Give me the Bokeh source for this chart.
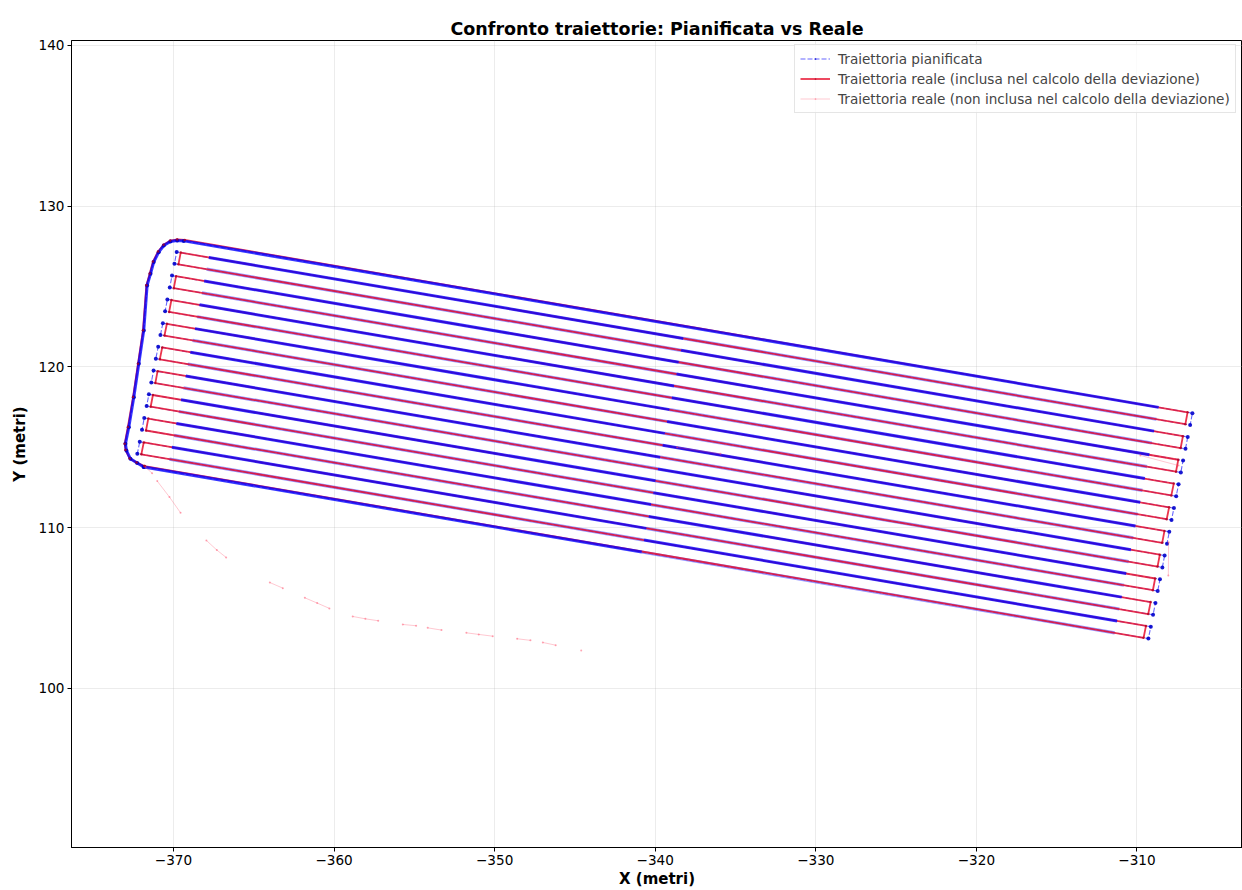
from bokeh.plotting import figure
from bokeh.models import Range1d, Legend, LegendItem, FixedTicker
from bokeh.embed import file_html
from bokeh.resources import INLINE

# ---------------- data (metri) ----------------
x_ticks = [-370, -360, -350, -340, -330, -320, -310]
x_tick_labels = ["\u2212370", "\u2212360", "\u2212350", "\u2212340", "\u2212330", "\u2212320", "\u2212310"]
y_ticks = [100, 110, 120, 130, 140]
y_tick_labels = ["100", "110", "120", "130", "140"]

# planned passes: 20 parallel lines, left and right end points
line_left_x = [-369.36, -369.80, -369.94, -370.09, -370.23, -370.38, -370.52, -370.66, -370.81, -370.95,
               -371.10, -371.24, -371.38, -371.53, -371.67, -371.82, -371.96, -372.10, -372.25, -371.85]
line_left_y = [127.84, 127.15, 126.42, 125.68, 124.94, 124.20, 123.46, 122.72, 121.99, 121.25,
               120.51, 119.77, 119.03, 118.29, 117.56, 116.82, 116.08, 115.34, 114.60, 113.77]
line_right_x = [-306.55, -306.69, -306.84, -306.98, -307.13, -307.27, -307.41, -307.56, -307.70, -307.85,
                -307.99, -308.13, -308.28, -308.42, -308.57, -308.71, -308.85, -309.00, -309.14, -309.29]
line_right_y = [117.12, 116.38, 115.64, 114.90, 114.17, 113.43, 112.69, 111.95, 111.21, 110.47,
                109.74, 109.00, 108.26, 107.52, 106.78, 106.05, 105.31, 104.57, 103.83, 103.09]
# point near the middle of each pass
line_mid_x = [None, -338.25, -338.39, -338.54, -338.68, -338.83, -338.97, -339.11, -339.26, -339.40,
              -339.54, -339.69, -339.83, -339.98, -340.12, -340.26, -340.41, -340.55, -340.70, -340.84]
line_mid_y = [None, 121.77, 121.03, 120.29, 119.55, 118.81, 118.08, 117.34, 116.60, 115.86,
              115.12, 114.38, 113.65, 112.91, 112.17, 111.43, 110.69, 109.95, 109.22, 108.48]

# outer headland curve (from bottom pass to top pass)
curve_x = [-371.85, -372.26, -372.68, -372.93, -372.99, -372.78, -372.47, -372.16, -371.85,
           -371.64, -371.43, -371.23, -370.92, -370.60, -370.19, -369.77, -369.36]
curve_y = [113.77, 114.02, 114.28, 114.80, 115.21, 116.25, 118.11, 120.19, 122.27,
           125.07, 125.79, 126.52, 127.14, 127.55, 127.80, 127.87, 127.84]

# limits of the densely sampled part of each pass (near the turns)
dense_left_x = [None, -367.80, -367.94, -368.09, -368.23, -368.38, -368.52, -368.66, -368.81, -368.95,
                -369.10, -369.24, -369.38, -369.53, -369.67, -369.82, -369.96, -370.10, -370.25, None]
dense_left_y = [None, 126.81, 126.08, 125.34, 124.60, 123.86, 123.12, 122.38, 121.65, 120.91,
                120.17, 119.43, 118.69, 117.95, 117.22, 116.48, 115.74, 115.00, 114.26, None]
dense_right_x = [-308.65, -308.79, -308.94, -309.08, -309.23, -309.37, -309.51, -309.66, -309.80, -309.95,
                 -310.09, -310.23, -310.38, -310.52, -310.67, -310.81, -310.95, -311.10, -311.24, -311.39]
dense_right_y = [117.48, 116.74, 116.00, 115.26, 114.53, 113.79, 113.05, 112.31, 111.57, 110.83,
                 110.10, 109.36, 108.62, 107.88, 107.14, 106.41, 105.67, 104.93, 104.19, 103.45]

# real trajectory turn points
real_left_x = [-369.30, -369.55, -369.69, -369.84, -369.98, -370.13, -370.27, -370.41, -370.56, -370.70,
               -370.85, -370.99, -371.13, -371.28, -371.42, -371.57, -371.71, -371.85, -372.00, -371.80]
real_left_y = [127.90, 127.11, 126.38, 125.64, 124.90, 124.16, 123.42, 122.68, 121.95, 121.21,
               120.47, 119.73, 118.99, 118.25, 117.52, 116.78, 116.04, 115.30, 114.56, 113.83]
real_right_x = [-306.85, -306.99, -307.14, -307.28, -307.43, -307.57, -307.71, -307.86, -308.00, -308.15,
                -308.29, -308.43, -308.58, -308.72, -308.87, -309.01, -309.15, -309.30, -309.44, -309.59]
real_right_y = [117.17, 116.43, 115.69, 114.95, 114.22, 113.48, 112.74, 112.00, 111.26, 110.52,
                109.79, 109.05, 108.31, 107.57, 106.83, 106.10, 105.36, 104.62, 103.88, 103.14]
real_curve_x = [-371.80, -372.30, -372.73, -372.99, -373.04, -372.84, -372.52, -372.21, -371.90,
                -371.69, -371.48, -371.28, -370.96, -370.62, -370.20, -369.77, -369.30]
real_curve_y = [113.83, 114.05, 114.30, 114.82, 115.22, 116.26, 118.12, 120.20, 122.28,
                125.08, 125.81, 126.55, 127.18, 127.60, 127.86, 127.93, 127.90]

# real trajectory not included in the deviation (approach + a few pieces)
excl_segments_x = [[-371.74, -371.33], [-371.01, -370.25, -369.56], [-367.95, -367.30, -366.72],
                   [-364.00, -363.19], [-361.82, -361.05, -360.29], [-358.84, -358.05, -357.25],
                   [-355.72, -354.89], [-354.17, -353.31], [-351.76, -350.99, -350.12],
                   [-348.60, -347.77], [-347.00, -346.20], [-344.61],
                   [-308.03, -308.05], [-309.79, -307.41], [-338.64, -335.94]]
excl_segments_y = [[113.76, 113.38], [112.89, 111.90, 110.92], [109.20, 108.60, 108.14],
                   [106.58, 106.23], [105.63, 105.30, 104.97], [104.47, 104.32, 104.20],
                   [103.97, 103.89], [103.76, 103.62], [103.45, 103.35, 103.24],
                   [103.08, 102.98], [102.85, 102.68], [102.35],
                   [109.09, 107.02], [114.49, 113.86], [115.00, 114.59]]

N = len(line_left_x)


def build_path(cx, cy, lx, ly, rx, ry):
    px, py = list(cx), list(cy)
    px.append(rx[0]); py.append(ry[0])
    for n in range(1, N):
        if n % 2 == 1:   # passes 2,4,.. : right end then left end
            px += [rx[n], lx[n]]; py += [ry[n], ly[n]]
        else:            # passes 3,5,.. : left end then right end
            px += [lx[n], rx[n]]; py += [ly[n], ry[n]]
    return px, py


plan_x, plan_y = build_path(curve_x, curve_y, line_left_x, line_left_y, line_right_x, line_right_y)
real_x, real_y = build_path(real_curve_x, real_curve_y, real_left_x, real_left_y, real_right_x, real_right_y)

# densely sampled pieces of the plan: first half of each pass lies under the real track,
# the second half (towards the next turn) over it
first_xs, first_ys = [], []
second_xs = [[line_mid_x[N - 1]] + curve_x + [dense_right_x[0]]]
second_ys = [[line_mid_y[N - 1]] + curve_y + [dense_right_y[0]]]
first_xs.append([dense_right_x[N - 1], line_mid_x[N - 1]])
first_ys.append([dense_right_y[N - 1], line_mid_y[N - 1]])
for n in range(1, N - 1):
    if n % 2 == 1:   # leftward pass
        first_xs.append([dense_right_x[n], line_mid_x[n]]); first_ys.append([dense_right_y[n], line_mid_y[n]])
        second_xs.append([line_mid_x[n], dense_left_x[n]]); second_ys.append([line_mid_y[n], dense_left_y[n]])
    else:            # rightward pass
        first_xs.append([dense_left_x[n], line_mid_x[n]]); first_ys.append([dense_left_y[n], line_mid_y[n]])
        second_xs.append([line_mid_x[n], dense_right_x[n]]); second_ys.append([line_mid_y[n], dense_right_y[n]])

# ---------------- figure ----------------
FONT = "DejaVu Sans"
p = figure(width=1242, height=890, output_backend="svg", toolbar_location=None,
           x_range=Range1d(-376.35, -303.43), y_range=Range1d(90.09, 140.31),
           min_border_left=71, min_border_right=0, min_border_top=40, min_border_bottom=43)
p.background_fill_color = "white"
p.border_fill_color = "white"
p.outline_line_color = "black"
p.outline_line_width = 1

p.title.text = "Confronto traiettorie: Pianificata vs Reale"
p.title.align = "center"
p.title.text_font = FONT
p.title.text_font_size = "17.5px"
p.title.text_font_style = "bold"
p.title.text_color = "black"
p.title.standoff = 4

for ax, ticks, labels, name in ((p.xaxis, x_ticks, x_tick_labels, "X (metri)"),
                                (p.yaxis, y_ticks, y_tick_labels, "Y (metri)")):
    ax.ticker = FixedTicker(ticks=ticks)
    ax.major_label_overrides = dict(zip(ticks, labels))
    ax.axis_label = name
    ax.axis_label_text_font = FONT
    ax.axis_label_text_font_size = "15px"
    ax.axis_label_text_font_style = "bold"
    ax.axis_label_text_color = "black"
    ax.major_label_text_font = FONT
    ax.major_label_text_font_size = "13.6px"
    ax.major_label_text_color = "black"
    ax.major_tick_out = 4
    ax.major_tick_in = 0
    ax.major_tick_line_color = "black"
    ax.minor_tick_out = 0
    ax.minor_tick_in = 0
    ax.major_label_standoff = 3
    ax.axis_line_color = "black"
p.yaxis.axis_label_standoff = 7
p.xaxis.axis_label_standoff = 2

p.xgrid.ticker = FixedTicker(ticks=x_ticks)
p.ygrid.ticker = FixedTicker(ticks=y_ticks)
p.grid.grid_line_color = "#b0b0b0"
p.grid.grid_line_alpha = 0.3
p.grid.grid_line_width = 0.8

BLUE = "#0000ff"
RED = "#e8102e"

plan_dash = p.line(plan_x, plan_y, line_color=BLUE, line_alpha=0.6, line_width=1.1, line_dash="5 2")
p.multi_line(first_xs, first_ys, line_color="#4040ff", line_alpha=0.55, line_width=3.2)
real_line = p.line(real_x, real_y, line_color=RED, line_alpha=0.85, line_width=1.8)
p.multi_line(second_xs, second_ys, line_color=BLUE, line_alpha=0.78, line_width=3.0)
plan_pts = p.scatter(plan_x, plan_y, marker="dot", size=16, color="#0000cc", alpha=0.9)
real_pts = p.scatter(real_x, real_y, marker="dot", size=10, color="#b00020", alpha=0.8)

excl_line = p.multi_line(excl_segments_x, excl_segments_y, line_color="#ff4d6a", line_alpha=0.35, line_width=0.9)
excl_flat_x = [v for s in excl_segments_x for v in s]
excl_flat_y = [v for s in excl_segments_y for v in s]
excl_pts = p.scatter(excl_flat_x, excl_flat_y, marker="dot", size=8, color="#ff4d6a", alpha=0.5)

legend = Legend(items=[
    LegendItem(label="Traiettoria pianificata", renderers=[plan_dash, plan_pts]),
    LegendItem(label="Traiettoria reale (inclusa nel calcolo della deviazione)", renderers=[real_line, real_pts]),
    LegendItem(label="Traiettoria reale (non inclusa nel calcolo della deviazione)", renderers=[excl_line, excl_pts]),
], location=(723, 734))
legend.label_text_font = FONT
legend.label_text_font_size = "13.6px"
legend.glyph_width = 30
legend.glyph_height = 17
legend.label_height = 17
legend.label_standoff = 8
legend.spacing = 3
legend.padding = 5
legend.margin = 0
legend.border_line_color = "#cccccc"
legend.border_line_width = 1
legend.background_fill_alpha = 0.8
p.add_layout(legend, "center")

open("out.html", "w").write(file_html(p, INLINE))
